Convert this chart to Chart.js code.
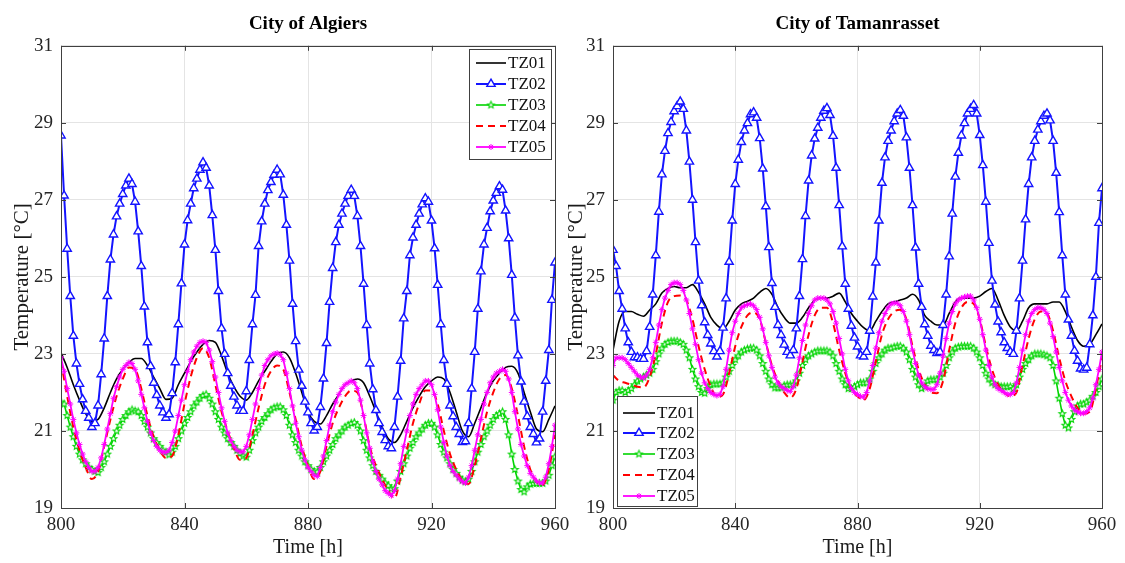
<!DOCTYPE html>
<html>
<head>
<meta charset="utf-8">
<script src="https://cdn.jsdelivr.net/npm/chart.js@4/dist/chart.umd.min.js"></script>
<style>
  body { margin: 0; background: #fff; width: 1125px; height: 563px; overflow: hidden; position: relative; }
  canvas { position: absolute; top: 0; }
  #algiers { left: 0; }
  #tamanrasset { left: 562px; }
</style>
</head>
<body>
<canvas id="algiers" width="590" height="563"></canvas>
<canvas id="tamanrasset" width="563" height="563"></canvas>
<script>
// time axis: hourly series start at 800 h, TZ01/TZ04 read every 2 h
var START_HOUR = 800;
var xTicks = [800, 840, 880, 920, 960];
var yTicks = [19, 21, 23, 25, 27, 29, 31];
var seriesNames = ['TZ01', 'TZ02', 'TZ03', 'TZ04', 'TZ05'];

// ---- City of Algiers ----
var algTZ01 = [ // every 2 h
  23.03, 22.65, 22.20, 21.80, 21.45, 21.25, 21.30, 21.60, 22.00, 22.35,
  22.60, 22.78, 22.88, 22.88, 22.70, 22.40, 22.10, 21.82, 21.85, 22.20,
  22.50, 22.80, 23.05, 23.25, 23.35, 23.30, 22.95, 22.50, 22.15, 21.90,
  21.80, 22.00, 22.30, 22.55, 22.80, 23.00, 23.05, 22.90, 22.50, 22.00,
  21.50, 21.25, 21.18, 21.40, 21.70, 21.95, 22.20, 22.30, 22.35, 22.25,
  21.90, 21.50, 21.10, 20.80, 20.70, 20.90, 21.25, 21.60, 21.90, 22.15,
  22.30, 22.40, 22.35, 22.00, 21.50, 21.00, 20.85, 21.20, 21.60, 22.00,
  22.30, 22.50, 22.65, 22.68, 22.50, 22.00, 21.50, 21.05, 20.98, 21.30,
  21.65
];
var algTZ02 = [
  28.67, 27.11, 25.73, 24.50, 23.47, 22.75, 22.22, 21.82, 21.52, 21.34,
  21.10, 21.20, 21.66, 22.47, 23.40, 24.50, 25.45, 26.10, 26.57, 26.90,
  27.15, 27.37, 27.55, 27.41, 26.95, 26.18, 25.28, 24.23, 23.30, 22.68,
  22.25, 21.93, 21.66, 21.48, 21.34, 21.43, 21.98, 22.78, 23.77, 24.83,
  25.84, 26.47, 26.90, 27.30, 27.55, 27.78, 27.97, 27.83, 27.37, 26.60,
  25.70, 24.63, 23.66, 23.00, 22.50, 22.17, 21.89, 21.66, 21.52, 21.52,
  22.03, 22.84, 23.77, 24.53, 25.80, 26.44, 26.90, 27.25, 27.46, 27.65,
  27.78, 27.66, 27.13, 26.35, 25.42, 24.30, 23.33, 22.59, 22.17, 21.76,
  21.48, 21.20, 21.01, 21.10, 21.62, 22.36, 23.28, 24.35, 25.23, 25.90,
  26.35, 26.64, 26.90, 27.10, 27.26, 27.10, 26.58, 25.80, 24.82, 23.75,
  22.75, 22.08, 21.54, 21.20, 20.97, 20.76, 20.60, 20.55, 21.10, 21.89,
  22.82, 23.92, 24.63, 25.56, 26.02, 26.35, 26.64, 26.88, 27.04, 26.95,
  26.46, 25.74, 24.79, 23.77, 22.84, 22.22, 21.66, 21.38, 21.10, 20.92,
  20.71, 20.73, 21.20, 22.10, 23.05, 24.17, 25.14, 25.84, 26.27, 26.70,
  26.98, 27.18, 27.35, 27.26, 26.72, 26.00, 25.05, 23.94, 22.96, 22.28,
  21.76, 21.38, 21.10, 20.92, 20.70, 20.80, 21.50, 22.30, 23.10, 24.40,
  25.37
];
var algTZ03 = [
  21.75, 21.70, 21.40, 21.10, 20.85, 20.60, 20.40, 20.25, 20.15, 20.05,
  20.00, 19.95, 19.92, 20.05, 20.20, 20.40, 20.60, 20.80, 21.00, 21.15,
  21.30, 21.40, 21.50, 21.55, 21.52, 21.50, 21.40, 21.25, 21.10, 20.95,
  20.80, 20.70, 20.60, 20.50, 20.45, 20.38, 20.45, 20.60, 20.80, 21.00,
  21.20, 21.35, 21.50, 21.65, 21.75, 21.85, 21.92, 21.95, 21.85, 21.70,
  21.50, 21.30, 21.10, 20.95, 20.80, 20.70, 20.60, 20.50, 20.42, 20.35,
  20.32, 20.50, 20.75, 20.95, 21.10, 21.25, 21.35, 21.45, 21.55, 21.60,
  21.63, 21.63, 21.55, 21.40, 21.15, 20.90, 20.70, 20.50, 20.35, 20.20,
  20.10, 20.00, 19.95, 19.94, 20.05, 20.20, 20.35, 20.50, 20.65, 20.80,
  20.90, 21.00, 21.10, 21.15, 21.20, 21.22, 21.15, 21.00, 20.75, 20.50,
  20.30, 20.10, 19.95, 19.85, 19.75, 19.65, 19.58, 19.50, 19.50, 19.70,
  19.95, 20.15, 20.35, 20.55, 20.70, 20.85, 20.95, 21.05, 21.15, 21.20,
  21.20, 21.10, 20.90, 20.65, 20.45, 20.30, 20.15, 20.00, 19.90, 19.80,
  19.72, 19.68, 19.75, 19.95, 20.20, 20.45, 20.65, 20.85, 21.00, 21.15,
  21.30, 21.40, 21.45, 21.50, 21.30, 20.90, 20.40, 20.00, 19.70, 19.48,
  19.42, 19.55, 19.62, 19.64, 19.64, 19.64, 19.64, 19.70, 19.85, 20.10,
  20.33
];
var algTZ04 = [ // every 2 h
  22.80, 21.90, 21.10, 20.50, 20.05, 19.75, 19.95, 20.60, 21.30, 21.90,
  22.35, 22.65, 22.60, 22.10, 21.40, 20.85, 20.50, 20.30, 20.35, 20.90,
  21.70, 22.40, 22.90, 23.15, 22.90, 22.20, 21.50, 21.00, 20.55, 20.25,
  20.30, 20.90, 21.60, 22.20, 22.55, 22.70, 22.60, 22.00, 21.30, 20.60,
  20.10, 19.75, 19.95, 20.60, 21.20, 21.60, 21.90, 22.05, 22.00, 21.40,
  20.60, 20.10, 19.75, 19.45, 19.25, 19.80, 20.50, 21.20, 21.70, 22.05,
  22.05, 21.70, 21.00, 20.40, 20.00, 19.70, 19.62, 20.10, 20.80, 21.50,
  22.00, 22.35, 22.45, 22.10, 21.40, 20.60, 20.00, 19.70, 19.60, 20.00,
  20.90
];
var algTZ05 = [
  22.90, 22.55, 22.10, 21.70, 21.30, 20.95, 20.65, 20.40, 20.20, 20.05,
  19.95, 19.95, 20.05, 20.30, 20.65, 21.05, 21.45, 21.85, 22.15, 22.40,
  22.60, 22.70, 22.78, 22.75, 22.60, 22.30, 21.95, 21.60, 21.25, 20.95,
  20.75, 20.60, 20.50, 20.45, 20.44, 20.50, 20.70, 21.00, 21.40, 21.80,
  22.20, 22.55, 22.85, 23.05, 23.20, 23.30, 23.33, 23.30, 23.10, 22.80,
  22.40, 22.00, 21.60, 21.25, 20.95, 20.75, 20.60, 20.50, 20.46, 20.46,
  20.60, 20.90, 21.30, 21.70, 22.10, 22.45, 22.70, 22.85, 22.95, 23.00,
  23.02, 22.98, 22.85, 22.50, 22.10, 21.65, 21.20, 20.85, 20.50, 20.25,
  20.05, 19.95, 19.85, 19.82, 20.05, 20.35, 20.75, 21.15, 21.50, 21.75,
  21.95, 22.10, 22.20, 22.25, 22.30, 22.25, 22.10, 21.80, 21.40, 20.95,
  20.55, 20.20, 19.95, 19.75, 19.60, 19.45, 19.38, 19.32, 19.45, 19.75,
  20.15, 20.60, 21.00, 21.40, 21.70, 21.95, 22.10, 22.20, 22.30, 22.30,
  22.20, 21.95, 21.55, 21.10, 20.70, 20.35, 20.10, 19.95, 19.85, 19.75,
  19.68, 19.65, 19.80, 20.10, 20.50, 20.90, 21.30, 21.70, 22.00, 22.25,
  22.40, 22.50, 22.55, 22.60, 22.55, 22.35, 22.00, 21.50, 21.05, 20.65,
  20.35, 20.10, 19.90, 19.80, 19.70, 19.65, 19.65, 19.80, 20.15, 20.60,
  21.15
];

// ---- City of Tamanrasset ----
var tamTZ01 = [ // every 2 h
  23.10, 23.85, 24.10, 24.10, 24.03, 23.98, 24.14, 24.30, 24.58, 24.70,
  24.75, 24.72, 24.72, 24.80, 24.60, 24.30, 23.95, 23.75, 23.65, 23.85,
  24.14, 24.30, 24.37, 24.45, 24.60, 24.70, 24.55, 24.20, 23.95, 23.80,
  23.80, 23.95, 24.20, 24.40, 24.45, 24.45, 24.50, 24.58, 24.35, 24.05,
  23.85, 23.68, 23.60, 23.85, 24.10, 24.30, 24.35, 24.40, 24.45, 24.55,
  24.40, 24.00, 23.85, 23.75, 23.75, 24.05, 24.35, 24.45, 24.45, 24.45,
  24.50, 24.62, 24.70, 24.40, 24.00, 23.70, 23.60, 23.85, 24.20, 24.30,
  24.30, 24.30, 24.35, 24.35, 24.10, 23.70, 23.35, 23.20, 23.25, 23.50,
  23.78
];
var tamTZ02 = [
  25.70, 25.28, 24.63, 24.17, 23.66, 23.30, 23.05, 22.91, 22.91, 22.87,
  22.87, 23.07, 23.70, 24.54, 25.56, 26.69, 27.66, 28.27, 28.73, 29.02,
  29.30, 29.43, 29.55, 29.36, 28.80, 27.99, 27.00, 25.90, 24.90, 24.26,
  23.82, 23.49, 23.27, 23.07, 22.93, 23.07, 23.68, 24.44, 25.39, 26.46,
  27.41, 28.04, 28.50, 28.80, 28.99, 29.22, 29.27, 29.13, 28.60, 27.81,
  26.83, 25.77, 24.84, 24.22, 23.75, 23.49, 23.24, 23.05, 22.96, 23.10,
  23.66, 24.50, 25.46, 26.58, 27.50, 28.15, 28.59, 28.87, 29.13, 29.31,
  29.38, 29.20, 28.66, 27.83, 26.86, 25.79, 24.82, 24.17, 23.73, 23.42,
  23.19, 22.96, 22.93, 23.05, 23.60, 24.49, 25.37, 26.46, 27.44, 28.10,
  28.53, 28.80, 29.04, 29.24, 29.33, 29.18, 28.62, 27.83, 26.86, 25.76,
  24.82, 24.22, 23.77, 23.47, 23.21, 23.10, 23.02, 23.05, 23.75, 24.54,
  25.53, 26.64, 27.60, 28.22, 28.67, 28.99, 29.24, 29.36, 29.46, 29.24,
  28.68, 27.90, 26.95, 25.88, 24.90, 24.28, 23.84, 23.56, 23.30, 23.15,
  23.05, 23.00, 23.60, 24.44, 25.42, 26.49, 27.41, 28.10, 28.53, 28.82,
  29.04, 29.18, 29.24, 29.06, 28.53, 27.70, 26.68, 25.56, 24.54, 23.89,
  23.47, 23.08, 22.82, 22.62, 22.59, 22.64, 23.25, 24.00, 25.00, 26.40,
  27.30
];
var tamTZ03 = [
  21.80, 22.00, 22.05, 22.05, 22.00, 22.05, 22.10, 22.20, 22.30, 22.35,
  22.40, 22.45, 22.50, 22.60, 22.80, 23.00, 23.15, 23.25, 23.30, 23.33,
  23.33, 23.33, 23.30, 23.25, 23.10, 22.90, 22.60, 22.35, 22.15, 22.00,
  21.98, 22.10, 22.20, 22.22, 22.22, 22.22, 22.25, 22.40, 22.55, 22.70,
  22.85, 22.95, 23.05, 23.10, 23.13, 23.15, 23.15, 23.10, 22.95, 22.75,
  22.55, 22.35, 22.20, 22.12, 22.12, 22.12, 22.18, 22.20, 22.20, 22.20,
  22.30, 22.50, 22.70, 22.85, 22.95, 23.00, 23.05, 23.08, 23.08, 23.08,
  23.08, 23.05, 22.95, 22.75, 22.55, 22.35, 22.20, 22.10, 22.10, 22.15,
  22.20, 22.25, 22.25, 22.25, 22.35, 22.55, 22.75, 22.90, 23.00, 23.10,
  23.15, 23.15, 23.18, 23.20, 23.20, 23.15, 23.05, 22.85, 22.60, 22.40,
  22.20, 22.10, 22.15, 22.30, 22.33, 22.33, 22.33, 22.40, 22.50, 22.70,
  22.90, 23.05, 23.15, 23.18, 23.20, 23.20, 23.20, 23.20, 23.15, 23.05,
  22.90, 22.70, 22.50, 22.35, 22.25, 22.20, 22.18, 22.15, 22.15, 22.15,
  22.15, 22.10, 22.20, 22.40, 22.60, 22.75, 22.85, 22.95, 23.00, 23.00,
  23.00, 22.98, 22.95, 22.90, 22.70, 22.30, 21.85, 21.45, 21.15, 21.08,
  21.30, 21.50, 21.65, 21.70, 21.70, 21.75, 21.80, 21.90, 22.00, 22.15,
  22.35
];
var tamTZ04 = [ // every 2 h
  22.45, 22.30, 22.25, 22.20, 22.15, 22.13, 22.40, 23.00, 23.80, 24.35,
  24.50, 24.52, 24.40, 23.90, 23.20, 22.60, 22.15, 21.88, 21.95, 22.50,
  23.20, 23.70, 24.00, 24.08, 23.90, 23.30, 22.70, 22.30, 22.00, 21.86,
  22.10, 22.80, 23.50, 24.00, 24.20, 24.20, 23.80, 23.10, 22.50, 22.10,
  21.90, 21.80, 22.10, 22.80, 23.50, 23.90, 24.10, 24.15, 23.90, 23.20,
  22.60, 22.20, 22.00, 21.98, 22.30, 23.10, 23.80, 24.20, 24.35, 24.30,
  23.90, 23.20, 22.60, 22.20, 22.00, 21.90, 22.00, 22.70, 23.40, 23.90,
  24.10, 24.05, 23.60, 22.90, 22.30, 21.90, 21.60, 21.45, 21.50, 22.10,
  22.90
];
var tamTZ05 = [
  22.70, 22.90, 22.90, 22.90, 22.85, 22.75, 22.65, 22.55, 22.45, 22.40,
  22.38, 22.45, 22.60, 22.90, 23.30, 23.75, 24.15, 24.45, 24.65, 24.80,
  24.85, 24.85, 24.80, 24.65, 24.40, 24.05, 23.65, 23.25, 22.85, 22.50,
  22.25, 22.10, 22.00, 21.95, 21.92, 21.95, 22.15, 22.60, 23.10, 23.55,
  23.85, 24.05, 24.20, 24.25, 24.28, 24.30, 24.25, 24.15, 23.95, 23.65,
  23.30, 22.95, 22.65, 22.40, 22.25, 22.15, 22.10, 22.05, 22.03, 22.15,
  22.45, 22.90, 23.35, 23.75, 24.05, 24.25, 24.40, 24.45, 24.45, 24.45,
  24.40, 24.30, 24.10, 23.80, 23.40, 23.00, 22.60, 22.30, 22.10, 22.00,
  21.95, 21.90, 21.88, 22.00, 22.30, 22.70, 23.15, 23.55, 23.85, 24.05,
  24.20, 24.30, 24.32, 24.32, 24.25, 24.10, 23.85, 23.50, 23.10, 22.75,
  22.45, 22.25, 22.15, 22.10, 22.08, 22.08, 22.20, 22.50, 22.95, 23.40,
  23.80, 24.10, 24.30, 24.40, 24.45, 24.48, 24.50, 24.50, 24.40, 24.20,
  23.90, 23.50, 23.10, 22.70, 22.40, 22.20, 22.10, 22.05, 22.00, 21.95,
  21.95, 22.00, 22.25, 22.65, 23.10, 23.50, 23.85, 24.05, 24.15, 24.20,
  24.20, 24.15, 24.05, 23.80, 23.45, 23.05, 22.65, 22.30, 22.00, 21.80,
  21.65, 21.55, 21.50, 21.46, 21.46, 21.50, 21.60, 21.85, 22.20, 22.60,
  23.05
];

var SERIF = "'Liberation Serif', 'Times New Roman', serif";

// small open pentagram used as TZ03 marker
function starMarker(color, r) {
    var c = document.createElement('canvas');
    var s = Math.ceil(r * 2 + 3);
    c.width = s;
    c.height = s;
    var g = c.getContext('2d');
    g.beginPath();
    for (var i = 0; i < 10; i++) {
        var a = -Math.PI / 2 + i * Math.PI / 5;
        var rr = (i % 2) ? r * 0.45 : r;
        g.lineTo(s / 2 + rr * Math.cos(a), s / 2 + rr * Math.sin(a));
    }
    g.closePath();
    g.fillStyle = '#fff';
    g.fill();
    g.strokeStyle = color;
    g.lineWidth = 1.1;
    g.stroke();
    return c;
}
var greenStar = starMarker('#00d400', 3.6);

function toPoints(values, step) {
    return values.map(function (v, i) { return { x: START_HOUR + i * step, y: v }; });
}

function buildDatasets(s1, s2, s3, s4, s5) {
    return [
        { label: seriesNames[0], data: toPoints(s1, 2), borderColor: '#000', borderWidth: 1.6,
          pointRadius: 0, cubicInterpolationMode: 'monotone', order: 5 },
        { label: seriesNames[1], data: toPoints(s2, 1), borderColor: '#1414ff', borderWidth: 2,
          pointStyle: 'triangle', pointRadius: 4.8, pointBorderWidth: 1.4,
          pointBackgroundColor: '#fff', pointBorderColor: '#1414ff', tension: 0, order: 4 },
        { label: seriesNames[2], data: toPoints(s3, 1), borderColor: '#00d400', borderWidth: 1.6,
          pointStyle: greenStar, pointRadius: 3, tension: 0, order: 3 },
        { label: seriesNames[3], data: toPoints(s4, 2), borderColor: '#ff0000', borderWidth: 2,
          borderDash: [7, 5], pointRadius: 0, cubicInterpolationMode: 'monotone', order: 2 },
        { label: seriesNames[4], data: toPoints(s5, 1), borderColor: '#ff00ff', borderWidth: 1.8,
          pointStyle: 'star', pointRadius: 3, pointBorderWidth: 1, pointBorderColor: '#ff00ff',
          tension: 0, order: 1 }
    ];
}

// MATLAB like axes box with inward ticks
var boxPlugin = {
    id: 'axesBox',
    afterDatasetsDraw: function (chart) {
        var ctx = chart.ctx;
        var a = chart.chartArea;
        var xs = chart.scales.x, ys = chart.scales.y;
        ctx.save();
        ctx.strokeStyle = '#404040';
        ctx.lineWidth = 1;
        ctx.strokeRect(Math.round(a.left) + 0.5, Math.round(a.top) + 0.5,
                       Math.round(a.right - a.left), Math.round(a.bottom - a.top));
        ctx.beginPath();
        xTicks.forEach(function (t) {
            var px = Math.round(xs.getPixelForValue(t)) + 0.5;
            ctx.moveTo(px, a.bottom); ctx.lineTo(px, a.bottom - 5);
            ctx.moveTo(px, a.top); ctx.lineTo(px, a.top + 5);
        });
        yTicks.forEach(function (t) {
            var py = Math.round(ys.getPixelForValue(t)) + 0.5;
            ctx.moveTo(a.left, py); ctx.lineTo(a.left + 5, py);
            ctx.moveTo(a.right, py); ctx.lineTo(a.right - 5, py);
        });
        ctx.stroke();
        ctx.restore();
    }
};

// legend box drawn inside the axes
var legendPlugin = {
    id: 'boxLegend',
    afterDraw: function (chart, args, opt) {
        var ctx = chart.ctx;
        ctx.save();
        ctx.fillStyle = '#fff';
        ctx.fillRect(opt.x, opt.y, opt.w, opt.h);
        ctx.strokeStyle = '#404040';
        ctx.lineWidth = 1;
        ctx.strokeRect(opt.x + 0.5, opt.y + 0.5, opt.w, opt.h);
        chart.data.datasets.forEach(function (ds, i) {
            var y = opt.rows[i];
            ctx.strokeStyle = ds.borderColor;
            ctx.lineWidth = ds.borderWidth;
            ctx.setLineDash(ds.borderDash || []);
            ctx.beginPath();
            ctx.moveTo(opt.x0, y);
            ctx.lineTo(opt.x1, y);
            ctx.stroke();
            ctx.setLineDash([]);
            var mx = (opt.x0 + opt.x1) / 2;
            if (ds.pointStyle instanceof HTMLCanvasElement) {
                ctx.drawImage(ds.pointStyle, mx - ds.pointStyle.width / 2, y - ds.pointStyle.height / 2);
            } else if (ds.pointRadius > 0) {
                ctx.fillStyle = ds.pointBackgroundColor || ds.borderColor;
                ctx.strokeStyle = ds.pointBorderColor || ds.borderColor;
                ctx.lineWidth = ds.pointBorderWidth || 1;
                Chart.helpers.drawPoint(ctx, { pointStyle: ds.pointStyle, radius: ds.pointRadius,
                    borderWidth: ds.pointBorderWidth || 1, rotation: 0 }, mx, y);
            }
            ctx.fillStyle = '#111';
            ctx.font = '17px ' + SERIF;
            ctx.textAlign = 'left';
            ctx.textBaseline = 'middle';
            ctx.fillText(ds.label, opt.textX, y + 1);
        });
        ctx.restore();
    }
};

function makeChart(id, title, datasets, yWidth, yTitlePad, padRight, legend) {
    var ctx = document.getElementById(id).getContext('2d');
    return new Chart(ctx, {
        type: 'line',
        data: { datasets: datasets },
        plugins: [boxPlugin, legendPlugin],
        options: {
            responsive: false,
            animation: false,
            events: [],
            layout: { padding: { left: 0, right: padRight, top: 0, bottom: 0 } },
            plugins: {
                legend: { display: false },
                tooltip: { enabled: false },
                title: {
                    display: true, text: title, fullSize: false, color: '#000',
                    font: { family: SERIF, size: 19, weight: 'bold' },
                    padding: { top: 13, bottom: 10 }
                },
                boxLegend: legend
            },
            scales: {
                x: {
                    type: 'linear', min: 800, max: 960,
                    afterBuildTicks: function (s) { s.ticks = xTicks.map(function (v) { return { value: v }; }); },
                    afterFit: function (s) { s.height = 55; },
                    grid: { color: '#e4e4e4', drawTicks: false },
                    border: { display: false },
                    ticks: { padding: 6, color: '#262626', font: { family: SERIF, size: 19 } },
                    title: { display: true, text: 'Time [h]', color: '#1a1a1a',
                             font: { family: SERIF, size: 20 }, padding: { top: 0, bottom: 3 } }
                },
                y: {
                    min: 19, max: 31,
                    afterBuildTicks: function (s) { s.ticks = yTicks.map(function (v) { return { value: v }; }); },
                    afterFit: function (s) { s.width = yWidth; },
                    grid: { color: '#e4e4e4', drawTicks: false },
                    border: { display: false },
                    ticks: { padding: 8, color: '#262626', font: { family: SERIF, size: 19 } },
                    title: { display: true, text: 'Temperature [°C]', color: '#1a1a1a',
                             font: { family: SERIF, size: 21 }, padding: { top: yTitlePad, bottom: 0 } }
                }
            }
        }
    });
}

makeChart('algiers', 'City of Algiers',
    buildDatasets(algTZ01, algTZ02, algTZ03, algTZ04, algTZ05), 61, 10, 35,
    { x: 469, y: 49, w: 82, h: 110, rows: [63, 84, 105, 126, 147], x0: 476, x1: 506, textX: 508 });

makeChart('tamanrasset', 'City of Tamanrasset',
    buildDatasets(tamTZ01, tamTZ02, tamTZ03, tamTZ04, tamTZ05), 51, 2, 23,
    { x: 55, y: 396, w: 80, h: 110, rows: [413, 433, 454, 475, 496], x0: 61, x1: 93, textX: 95 });
</script>
</body>
</html>
